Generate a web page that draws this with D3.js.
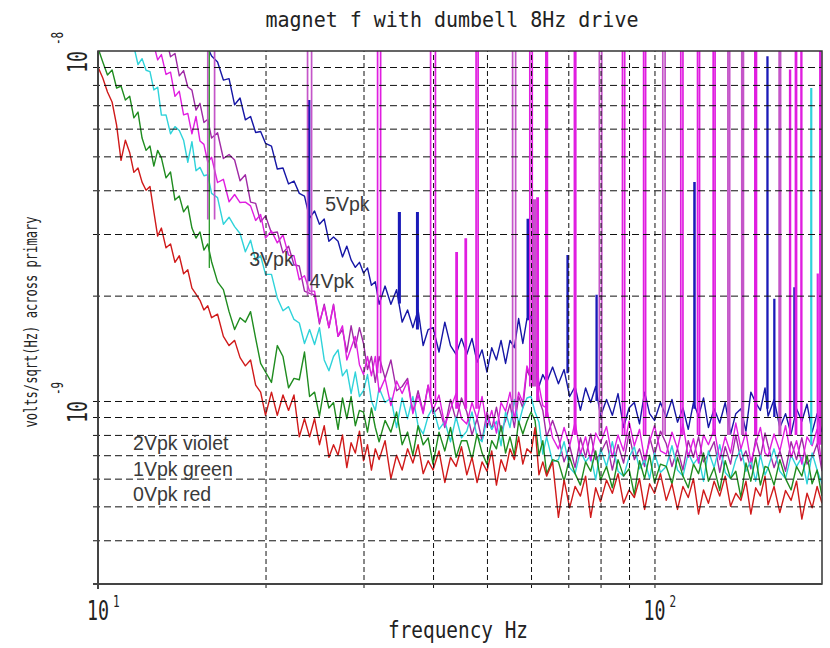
<!DOCTYPE html>
<html>
<head>
<meta charset="utf-8">
<script src="https://cdn.jsdelivr.net/npm/d3@7/dist/d3.min.js"></script>
<style>
  body { margin: 0; background: #fff; }
</style>
</head>
<body>
<div class="chart"></div>
<script>
const width = 830;
const height = 648;

// frequency bins, Hz
const freqs = [10,10.2,10.4,10.6,10.8,11,11.2,11.4,11.6,11.8,12,12.2,12.4,12.6,12.8,
  13,13.25,13.5,13.75,14,14.25,14.5,14.75,15,15.25,15.5,15.75,
  16,16.4,16.8,17.2,17.6,18,18.4,18.8,19.2,19.6,
  20,20.5,21,21.5,22,22.5,23,23.5,24,24.5,
  25,25.5,26,26.5,27,27.5,28,28.5,29,29.5,30,30.5,31,31.5,
  32,32.8,33.6,34.4,35.2,36,36.8,37.6,38.4,39.2,
  40,41,42,43,44,45,46,47,48,49,
  50,51,52,53,54,55,56,57,58,59,60,61,62,63,
  64,65.6,67.2,68.8,70.4,72,73.6,75.2,76.8,78.4,
  80,82,84,86,88,90,92,94,96,98,
  100,102.5,105,107.5,110,112.5,115,117.5,120,122.5,
  125,128,131,134,137,140,143,146,149,152,155,158,
  160,164,168,172,176,180,184,188,192,196,200];

// spectra in units of 1e-9 V/sqrt(Hz)
const red0 = [9.0,8.37,7.64,7.15,6.14,4.87,5.56,5.13,4.5,4.63,4.22,4.0,4.1,3.47,2.96,
  3.12,2.74,2.81,2.49,2.6,2.31,2.37,2.1,2.02,1.94,1.82,1.87,
  1.73,1.77,1.53,1.44,1.49,1.33,1.26,1.31,1.11,1.06,
  0.91,1.06,0.91,1.04,0.94,1.04,0.79,0.89,0.79,0.89,
  0.75,0.85,0.69,0.75,0.70,0.80,0.645,0.76,0.71,0.82,0.675,0.75,0.635,0.73,
  0.68,0.77,0.60,0.70,0.635,0.73,0.665,0.75,0.62,0.675,
  0.635,0.72,0.585,0.69,0.65,0.74,0.615,0.69,0.585,0.67,
  0.63,0.72,0.575,0.68,0.63,0.73,0.68,0.79,0.66,0.73,0.71,0.84,0.615,0.67,
  0.61,0.67,0.465,0.595,0.495,0.57,0.535,0.61,0.465,0.565,
  0.515,0.595,0.545,0.62,0.51,0.557,0.53,0.60,0.49,0.58,
  0.545,0.62,0.52,0.58,0.49,0.57,0.53,0.60,0.475,0.557,
  0.51,0.59,0.535,0.61,0.50,0.545,0.52,0.59,0.475,0.565,0.535,0.61,
  0.505,0.57,0.48,0.555,0.52,0.59,0.46,0.545,0.495,0.57,0.51];

const green1 = [10.2,9.3,8.54,8.83,7.84,7.94,7.24,7.43,6.44,6.69,5.64,5.2,5.35,4.69,5.2,
  4.95,4.34,4.51,3.75,3.85,3.47,3.61,3.12,2.92,3.04,2.70,2.81,
  2.50,2.19,2.08,1.80,1.60,1.73,1.68,1.80,1.51,1.28,
  1.21,1.13,1.44,1.34,1.09,1.16,1.15,1.38,1.03,1.06,
  0.905,1.09,0.955,0.99,0.83,1.02,0.89,1.03,0.85,0.94,0.93,0.815,0.955,0.84,
  0.765,0.88,0.815,0.93,0.75,0.815,0.70,0.85,0.75,0.785,
  0.66,0.815,0.72,0.84,0.69,0.77,0.77,0.68,0.805,0.71,
  0.66,0.77,0.73,0.85,0.71,0.79,0.70,0.875,0.805,0.875,0.93,0.88,0.70,0.77,
  0.62,0.68,0.67,0.59,0.69,0.62,0.575,0.67,0.63,0.72,
  0.595,0.65,0.565,0.68,0.61,0.64,0.54,0.675,0.60,0.70,
  0.585,0.66,0.65,0.58,0.69,0.61,0.565,0.66,0.62,0.71,
  0.59,0.645,0.555,0.675,0.60,0.63,0.53,0.665,0.59,0.69,0.575,0.65,
  0.645,0.575,0.68,0.60,0.557,0.65,0.61,0.70,0.58,0.635,0.535];

const violet2 = [14.9,14.5,14.2,13.8,13.4,13.1,12.9,12.6,13.0,11.9,12.0,11.0,11.9,10.7,11.3,
  10.2,10.9,9.63,9.84,8.49,8.79,7.89,7.73,6.78,7.09,6.25,6.38,
  5.64,5.84,4.93,5.06,4.88,4.26,4.43,3.70,3.67,3.25,
  3.38,3.02,3.04,2.65,2.77,2.45,2.43,2.06,2.03,2.01,
  1.66,1.89,1.62,1.89,1.53,1.60,1.38,1.64,1.42,1.62,1.46,1.23,1.34,1.13,
  1.34,1.16,1.31,1.07,1.10,1.16,0.93,1.07,0.93,1.11,
  0.92,0.96,0.84,1.01,0.88,1.02,0.93,0.80,0.89,0.77,
  0.93,0.83,0.96,0.82,0.88,0.98,0.84,1.03,0.955,1.23,1.15,1.31,1.01,0.94,
  0.79,0.88,0.785,0.67,0.745,0.645,0.785,0.69,0.805,0.68,
  0.71,0.77,0.635,0.75,0.665,0.81,0.68,0.73,0.65,0.79,
  0.70,0.82,0.755,0.65,0.73,0.635,0.77,0.69,0.79,0.67,
  0.705,0.765,0.625,0.74,0.66,0.80,0.675,0.72,0.64,0.78,0.69,0.81,
  0.745,0.645,0.72,0.63,0.765,0.68,0.785,0.66,0.69,0.755,0.63];

const cyan3 = [11.5,11.2,10.9,11.0,10.6,10.8,10.3,10.4,10.3,9.15,9.51,8.81,8.73,7.74,7.88,
  6.56,6.57,5.80,6.08,5.93,5.56,4.81,5.51,4.55,4.65,4.40,4.43,
  3.92,3.81,3.20,3.35,3.15,3.01,2.67,2.88,2.52,2.60,
  2.30,2.30,1.97,1.81,1.86,1.71,1.67,1.46,1.60,1.45,
  1.62,1.31,1.22,1.34,1.40,1.18,1.23,1.05,1.21,1.03,1.07,1.19,1.0,0.94,
  1.09,0.99,1.02,0.84,1.02,0.89,1.03,0.85,0.805,0.905,
  0.96,0.83,0.875,0.765,0.90,0.785,0.82,0.93,0.79,0.765,
  0.89,0.83,0.875,0.745,0.93,0.84,1.01,0.86,0.955,1.02,1.03,0.93,0.87,0.705,
  0.79,0.67,0.68,0.765,0.645,0.62,0.72,0.67,0.70,0.595,
  0.73,0.65,0.765,0.63,0.61,0.69,0.74,0.64,0.68,0.60,
  0.71,0.625,0.65,0.745,0.635,0.61,0.71,0.66,0.69,0.59,
  0.72,0.645,0.75,0.625,0.60,0.68,0.73,0.63,0.675,0.59,0.70,0.615,
  0.645,0.73,0.63,0.60,0.70,0.65,0.69,0.58,0.71,0.635,0.58];

const magenta4 = [13.1,12.8,12.9,12.4,12.6,12.1,12.3,11.8,11.1,11.6,10.45,11.4,10.3,10.4,9.43,
  9.77,8.57,8.70,7.42,7.67,6.57,6.63,5.80,6.50,5.53,5.41,4.81,
  4.97,4.21,4.30,3.71,3.89,3.69,3.70,3.61,3.28,3.41,
  2.92,3.06,2.83,2.98,2.61,2.60,2.22,2.28,2.06,2.06,
  1.68,1.87,1.62,1.88,1.53,1.64,1.31,1.42,1.53,1.27,1.19,1.34,1.18,1.34,
  1.06,1.16,0.97,1.14,1.05,1.14,0.92,1.04,0.92,1.11,
  0.94,1.04,0.85,0.95,1.05,0.89,0.86,0.99,0.89,1.03,
  0.84,0.94,0.81,0.99,0.935,1.06,0.89,1.06,0.99,1.26,1.16,1.54,1.11,0.97,
  0.955,0.785,0.73,0.84,0.745,0.87,0.705,0.79,0.675,0.81,
  0.76,0.845,0.69,0.80,0.72,0.875,0.745,0.83,0.68,0.765,
  0.85,0.72,0.705,0.815,0.73,0.86,0.69,0.78,0.665,0.80,
  0.75,0.83,0.68,0.79,0.71,0.865,0.73,0.815,0.67,0.755,0.84,0.71,
  0.695,0.805,0.72,0.85,0.69,0.77,0.66,0.79,0.745,0.83,0.65];

const blue5 = [20.8,20.1,19.4,18.8,18.2,17.7,17.3,16.8,16.4,16.0,15.5,15.1,14.7,14.4,14.0,
  13.6,13.3,12.9,12.6,12.3,11.9,11.6,11.3,11.0,10.8,10.4,10.2,
  9.68,9.30,8.26,8.34,7.02,7.34,6.36,6.50,5.85,5.89,
  5.45,5.35,4.6,4.63,4.17,4.25,3.92,3.85,3.33,3.49,
  3.2,3.31,2.86,2.94,2.86,2.58,2.77,2.53,2.41,2.49,2.32,2.40,2.14,2.19,
  1.89,2.13,1.89,2.08,1.68,1.82,1.62,1.82,1.44,1.60,
  1.62,1.38,1.68,1.44,1.36,1.51,1.36,1.51,1.29,1.40,
  1.21,1.42,1.31,1.49,1.28,1.49,1.42,1.72,1.46,1.72,1.75,1.40,1.10,1.19,
  1.13,1.25,1.12,1.23,1.03,1.10,0.94,1.09,0.99,1.10,
  0.905,1.01,0.91,1.05,0.84,0.955,0.99,0.86,1.06,0.92,
  0.88,0.99,0.90,1.01,0.87,0.955,0.83,0.99,0.905,1.02,
  0.84,0.95,0.865,0.99,0.805,0.92,0.95,0.82,1.06,0.99,0.94,1.09,
  0.905,1.01,0.84,0.92,0.805,0.95,0.875,0.98,0.815,0.92,0.815];

// narrow lines (drive harmonics etc): [f low bin, f high bin, floor, peak]
const spikes2 = [[15.75,16.2,3.3,30],[23.8,24.2,2.0,30],[55.6,56.3,0.95,30],[60.7,61.1,1.1,3.75],
  [79.6,80.4,0.8,30],[103.5,104.5,0.8,30],[135.5,136.5,0.8,30],[143.5,144.5,0.8,30],[167.5,168.5,0.8,30]];
const spikes4 = [[31.8,32.2,1.2,30],[39.6,40.4,1.0,30],[44.0,44.2,0.95,2.65],[45.7,45.9,0.95,2.9],
  [47.8,48.2,0.95,30],[59.7,60.3,1.1,30],[61.5,61.8,1.0,3.8],[63.8,64.2,0.9,30],[71.8,72.2,0.8,30],
  [87.6,88.4,0.8,30],[95.6,96.4,0.8,30],[111.5,112.5,0.8,30],[119.5,120.5,0.8,30],[127.5,128.5,0.8,30],
  [151.5,152.5,0.8,30],[175,175.5,0.8,8.8],[179.2,180,0.8,30],[183.4,183.9,0.8,30],[196.3,196.7,0.75,2.3],
  [198.3,198.8,0.75,30]];
const spikes5 = [[23.9,24.0,2.2,7.2],[34.7,34.9,1.9,3.45],[37.4,37.6,1.6,3.45],[59.1,59.3,1.7,3.3],
  [69.7,69.9,1.2,2.6],[78.6,78.8,1.0,2.0],[117.8,118.2,0.95,4.2],[159.4,159.8,0.95,9.6],
  [164,164.4,0.9,1.95],[178.2,178.6,0.9,2.1]];
const spikes1 = [[15.85,15.85,2.4,30]];
const spikes3 = [[191.1,191.5,0.75,7.8]];

const xGrid = [20,30,40,50,60,70,80,90,100];
const yGrid = [0.4,0.5,0.6,0.7,0.8,0.9,1,2,3,4,5,6,7,8,9];
const xDecades = [[10,'1'],[100,'2']];
const yDecades = [[1,'-9'],[10,'-8']];

const title = 'magnet f with dumbell 8Hz drive';
const xTitle = 'frequency Hz';
const yTitle = 'volts/sqrt(Hz) across primary';

const notes = [
  ['5Vpk', 25.6, 3.49],
  ['3Vpk', 18.7, 2.43],
  ['4Vpk', 24.0, 2.10],
  ['2Vpk violet', 11.56, 0.725],
  ['1Vpk green', 11.56, 0.61],
  ['0Vpk red', 11.56, 0.518]
];

const series = [
  {name: '5Vpk', values: blue5, spikes: spikes5, color: '#1616a6', spikeColor: '#1a1ab8', spikeWidth: 1.7},
  {name: '2Vpk', values: violet2, spikes: spikes2, color: '#a02aa6', spikeColor: '#c455c8', spikeWidth: 1.7},
  {name: '3Vpk', values: cyan3, spikes: spikes3, color: '#2fd3da', spikeColor: '#2fd3da', spikeWidth: 1.7},
  {name: '1Vpk', values: green1, spikes: spikes1, color: '#1f8c1f', spikeColor: '#2a9a2a', spikeWidth: 1},
  {name: '0Vpk', values: red0, spikes: [], color: '#d01a1a', spikeColor: '#d01a1a', spikeWidth: 1.7},
  {name: '4Vpk', values: magenta4, spikes: spikes4, color: '#e01ee0', spikeColor: '#e01ee0', spikeWidth: 1.7}
];

const pLeft = 98, pRight = 822, pTop = 51, pBottom = 584;

const x = d3.scaleLog().domain([10, 200]).range([pLeft, pRight]);
const y = d3.scaleLog().domain([0.3, 10]).range([pBottom, pTop]);

const svg = d3.select('.chart').append('svg')
  .attr('width', width)
  .attr('height', height)
  .style('font-family', '"DejaVu Sans Mono", monospace');

svg.append('clipPath').attr('id', 'plot')
  .append('rect')
  .attr('x', pLeft).attr('y', pTop)
  .attr('width', pRight - pLeft).attr('height', pBottom - pTop);

const line = d3.line()
  .x(d => x(d[0]))
  .y(d => y(d[1]));

const plot = svg.append('g').attr('clip-path', 'url(#plot)');

series.forEach(s => {
  plot.append('path')
    .attr('d', line(freqs.map((f, i) => [f, s.values[i]])))
    .attr('fill', 'none')
    .attr('stroke', s.color)
    .attr('stroke-width', 1.4)
    .attr('stroke-linejoin', 'round');
});

series.forEach(s => {
  plot.selectAll(null)
    .data(s.spikes)
    .enter()
    .append('path')
    .attr('d', d => line([[d[0], d[2]], [d[0], d[3]], [d[1], d[3]], [d[1], d[2]]]))
    .attr('fill', 'none')
    .attr('stroke', s.spikeColor)
    .attr('stroke-width', s.spikeWidth);
});

// dashed grid
svg.append('g')
  .attr('transform', `translate(0,${pBottom + 4})`)
  .call(d3.axisBottom(x).tickValues(xGrid).tickSize(-(pBottom + 4 - pTop)).tickFormat(''))
  .call(g => g.select('.domain').remove())
  .selectAll('line')
  .attr('stroke', '#111')
  .attr('stroke-dasharray', '5,3');

svg.append('g')
  .attr('transform', `translate(${pLeft - 5},0)`)
  .call(d3.axisLeft(y).tickValues(yGrid).tickSize(-(pRight - pLeft + 5)).tickFormat(''))
  .call(g => g.select('.domain').remove())
  .selectAll('line')
  .attr('stroke', '#111')
  .attr('stroke-dasharray', '7,4');

// frame
svg.append('rect')
  .attr('x', pLeft).attr('y', pTop)
  .attr('width', pRight - pLeft).attr('height', pBottom - pTop)
  .attr('fill', 'none')
  .attr('stroke', '#333')
  .attr('stroke-width', 1.5);
svg.append('line')
  .attr('x1', pLeft).attr('x2', pLeft).attr('y1', pTop).attr('y2', pBottom + 5)
  .attr('stroke', '#444').attr('stroke-width', 2);
svg.append('line')
  .attr('x1', pLeft - 5).attr('x2', pRight).attr('y1', pBottom).attr('y2', pBottom)
  .attr('stroke', '#444').attr('stroke-width', 2);

// decade labels
const xl = svg.append('g').selectAll('g')
  .data(xDecades)
  .enter().append('g')
  .attr('transform', d => `translate(${x(d[0])},620) scale(1,1.5)`)
  .attr('fill', '#222');
xl.append('text').attr('text-anchor', 'middle').attr('font-size', 18.3).text('10');
xl.append('text').attr('x', 15).attr('y', -8.7).attr('font-size', 11).text(d => d[1]);

const yl = svg.append('g').selectAll('g')
  .data(yDecades)
  .enter().append('g')
  .attr('transform', d => `translate(87,${y(d[0]) + 22}) rotate(-90) scale(1,1.5)`)
  .attr('fill', '#222');
yl.append('text').attr('font-size', 18.3).text('10');
yl.append('text').attr('x', 28).attr('y', -16).attr('font-size', 11).text(d => d[1]);

// titles
svg.append('text')
  .attr('transform', 'translate(452,27) scale(1,1.08)')
  .attr('text-anchor', 'middle')
  .attr('font-size', 20)
  .attr('fill', '#222')
  .text(title);

svg.append('text')
  .attr('transform', 'translate(458,638) scale(1,1.2)')
  .attr('text-anchor', 'middle')
  .attr('font-size', 19.4)
  .attr('fill', '#222')
  .text(xTitle);

svg.append('text')
  .attr('transform', 'translate(37,322) rotate(-90) scale(1,1.5)')
  .attr('text-anchor', 'middle')
  .attr('font-size', 12.1)
  .attr('fill', '#222')
  .text(yTitle);

// curve labels
svg.append('g').selectAll('text')
  .data(notes)
  .enter().append('text')
  .attr('x', d => x(d[1]))
  .attr('y', d => y(d[2]))
  .attr('font-family', '"Liberation Sans", Arial, sans-serif')
  .attr('font-size', 19.5)
  .attr('fill', '#3a3a3a')
  .text(d => d[0]);
</script>
</body>
</html>
